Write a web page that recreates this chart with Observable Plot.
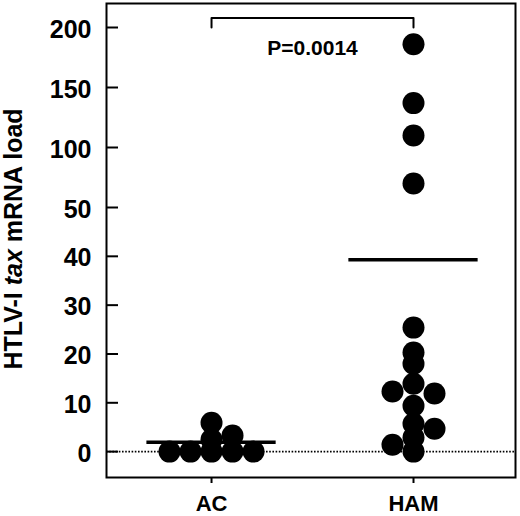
<!DOCTYPE html>
<html>
<head>
<meta charset="utf-8">
<script src="https://cdn.jsdelivr.net/npm/d3@7"></script>
<script src="https://cdn.jsdelivr.net/npm/@observablehq/plot@0.6"></script>
<style>
  body { margin: 0; background: #fff; }
  svg { font-family: "Liberation Sans", Arial, Helvetica, sans-serif; }
</style>
</head>
<body>
<div id="chart"></div>
<script>
// ---- data ----
const groups = ["AC", "HAM"];
const acValues = [0, 0, 0, 0, 0, 2.5, 5.9, 3.3];
const acSlots  = [-2, -1, 0, 1, 2, 0, 0, 1];
const hamValues = [186, 137, 110, 70, 25.4, 20.3, 18, 13.9, 12.3, 11.9, 9.4, 5.7, 4.7, 2.9, 1.4, 0];
const hamSlots  = [0, 0, 0, 0, 0, 0, 0, 0, -1, 1, 0, 0, 1, 0, -1, 0];
const groupMeans = [1.9, 39.3];
const yTicks = [0, 10, 20, 30, 40, 50, 100, 150, 200];
const pLabel = "P=0.0014";
const bracketTop = 208;
const bracketEnd = 200;
const pLabelY = 183;

// ---- tables built from the arrays ----
const points = [
  ...acValues.map((v, i) => ({group: 1, slot: acSlots[i], value: v})),
  ...hamValues.map((v, i) => ({group: 2, slot: hamSlots[i], value: v}))
];
const meanRows = groupMeans.map((m, i) => ({group: i + 1, mean: m}));
const bracket = [
  {x: 1, y: bracketEnd}, {x: 1, y: bracketTop},
  {x: 2, y: bracketTop}, {x: 2, y: bracketEnd}
];

const spacing = 0.104;   // horizontal slot step in x units
const halfMean = 0.32;   // half width of mean bar in x units

const plot = Plot.plot({
  width: 520,
  height: 516,
  marginLeft: 106,
  marginRight: 5,
  marginTop: 3,
  marginBottom: 39,
  style: {background: "white", color: "black", fontFamily: '"Liberation Sans", Arial, sans-serif'},
  x: {type: "linear", domain: [0.48, 2.505], axis: null},
  y: {type: "linear", domain: [-5.3, 50, 220], range: [477, 207, 3], axis: null},
  marks: [
    Plot.ruleY([0], {stroke: "black", strokeWidth: 1.6, strokeDasharray: "1.6,1.6"}),
    Plot.dot(points, {x: d => d.group + d.slot * spacing, y: "value", r: 11, fill: "black", stroke: "none"}),
    Plot.ruleY(meanRows, {y: "mean", x1: d => d.group - halfMean, x2: d => d.group + halfMean, stroke: "black", strokeWidth: 3.5}),
    Plot.line(bracket, {x: "x", y: "y", stroke: "black", strokeWidth: 2}),
    Plot.text([pLabel], {x: 1.5, y: pLabelY, text: d => d, fontSize: 21, fontWeight: "bold", fill: "black"}),
    Plot.frame({stroke: "black", strokeWidth: 2}),
    Plot.axisY(yTicks, {anchor: "left", tickSize: -12, strokeWidth: 2, fill: "none", label: null}),
    Plot.axisY(yTicks, {anchor: "left", tickSize: 0, tickPadding: 15, dy: 2, fontSize: 25, fontWeight: "bold", fill: "black", label: null}),
    Plot.axisX([1, 2], {anchor: "bottom", tickSize: 6, strokeWidth: 2, tickPadding: 12, tickFormat: d => groups[d - 1], fontSize: 22, fontWeight: "bold", fill: "black", label: null})
  ]
});

const svg = d3.select(plot);
const title = svg.append("text")
  .attr("transform", "translate(22,239) rotate(-90)")
  .attr("text-anchor", "middle")
  .attr("font-size", 25)
  .attr("font-weight", "bold")
  .attr("fill", "black");
title.append("tspan").text("HTLV-I ");
title.append("tspan").attr("font-style", "italic").text("tax");
title.append("tspan").text(" mRNA load");

document.getElementById("chart").appendChild(plot);
</script>
</body>
</html>
